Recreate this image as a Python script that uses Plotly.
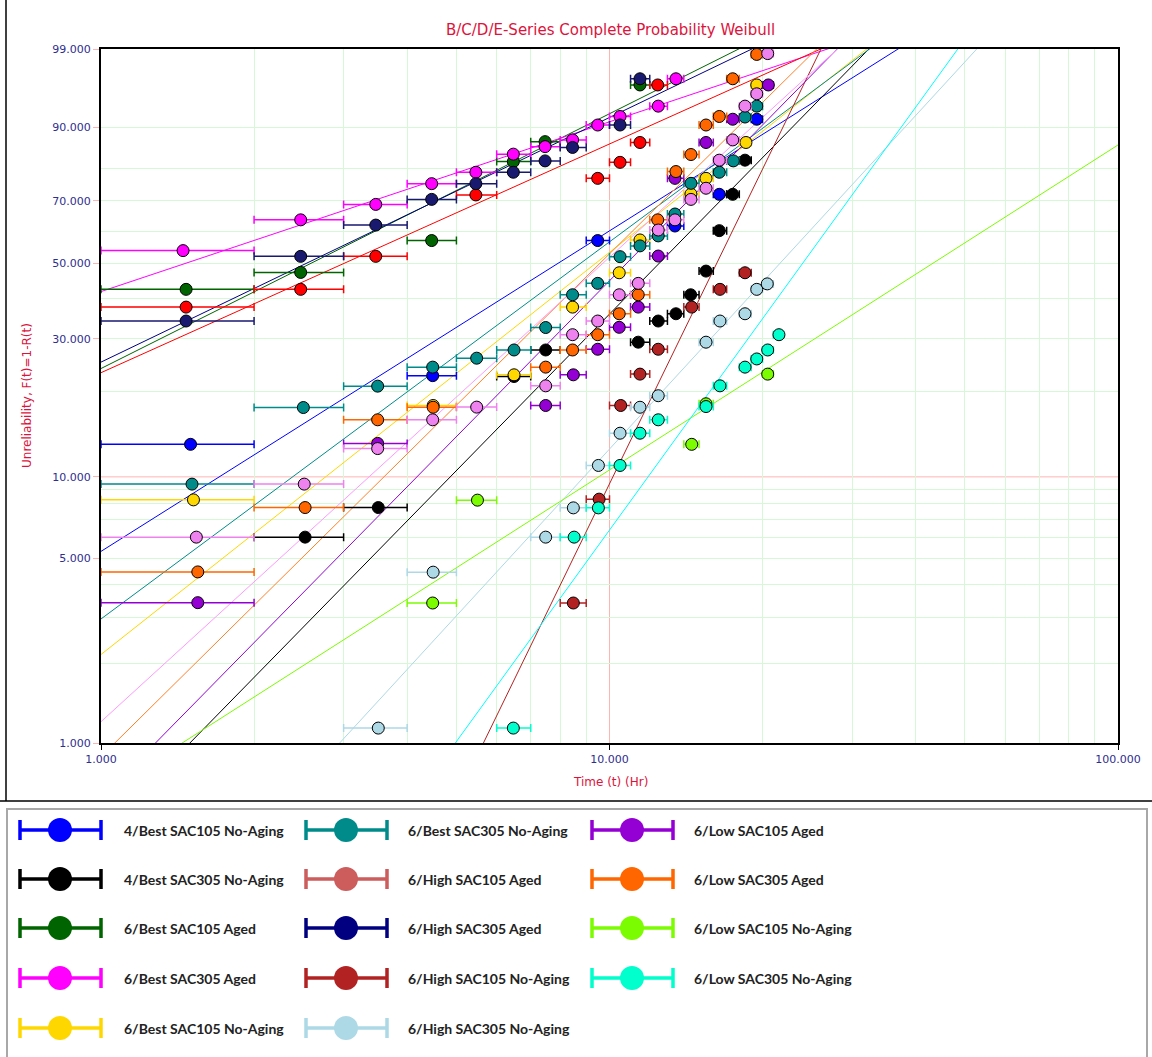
import numpy as np
import plotly.graph_objects as go

FIG_W, FIG_H = 1152, 1057

# ---------------- data: interval midpoints (hr), inspection intervals (hr), unreliability (%) ----------------
blue_t = [1.50, 4.49, 9.48, 13.45, 16.44, 19.48]
blue_iv = [(1, 2), (4, 5), (9, 10), (13, 14), (16, 17), (19, 20)]
blue_F = [13.1, 22.7, 57.2, 61.9, 72.1, 91.6]

black_t = [2.52, 3.51, 6.49, 7.49, 11.39, 12.47, 13.51, 14.44, 15.48, 16.44, 17.47, 18.47]
black_iv = [(2, 3), (3, 4), (6, 7), (7, 8), (11, 12), (12, 13), (13, 14), (14, 15), (15, 16), (16, 17), (17, 18), (18, 19)]
black_F = [6.0, 7.72, 22.55, 27.6, 29.25, 34.1, 35.9, 40.9, 47.7, 60.4, 72.1, 82.2]

dgreen_t = [1.47, 2.47, 4.47, 6.47, 7.47, 11.48]
dgreen_iv = [(1, 2), (2, 3), (4, 5), (6, 7), (7, 8), (11, 12)]
dgreen_F = [42.4, 47.3, 57.2, 81.8, 86.9, 96.5]

magenta_t = [1.45, 2.47, 3.47, 4.47, 5.46, 6.47, 7.47, 8.46, 9.48, 10.49, 12.47, 13.51]
magenta_iv = [(1, 2), (2, 3), (3, 4), (4, 5), (5, 6), (6, 7), (7, 8), (8, 9), (9, 10), (10, 11), (12, 13), (13, 14)]
magenta_F = [54.0, 63.9, 68.9, 75.4, 78.8, 83.8, 85.7, 87.3, 90.5, 92.1, 93.8, 97.1]

gold_t = [1.52, 4.50, 6.49, 8.46, 10.45, 11.48, 14.46, 15.48, 18.55, 19.48]
gold_iv = [(1, 2), (4, 5), (6, 7), (8, 9), (10, 11), (11, 12), (14, 15), (15, 16), (18, 19), (19, 20)]
gold_F = [8.24, 17.95, 22.85, 37.6, 47.2, 57.4, 72.2, 77.0, 86.7, 96.5]

teal_t = [1.51, 2.50, 3.50, 4.49, 5.48, 6.49, 7.49, 8.46, 9.48, 10.49, 11.48, 12.47, 13.45, 14.46,
          16.44, 17.52, 18.47, 19.48]
teal_iv = [(1, 2), (2, 3), (3, 4), (4, 5), (5, 6), (6, 7), (7, 8), (8, 9), (9, 10), (10, 11), (11, 12),
           (12, 13), (13, 14), (14, 15), (16, 17), (17, 18), (18, 19), (19, 20)]
teal_F = [9.41, 17.66, 20.92, 24.24, 25.95, 27.6, 32.55, 40.9, 44.1, 52.1, 55.5, 58.7, 65.8, 75.5,
          78.8, 82.0, 92.0, 93.8]

red_t = [1.47, 2.47, 3.47, 5.46, 9.48, 10.49, 11.48, 12.44]
red_iv = [(1, 2), (2, 3), (3, 4), (5, 6), (9, 10), (10, 11), (11, 12), (12, 13)]
red_F = [37.6, 42.4, 52.2, 71.9, 77.0, 81.6, 86.7, 96.5]

navy_t = [1.47, 2.47, 3.47, 4.47, 5.46, 6.47, 7.47, 8.46, 10.49, 11.48]
navy_iv = [(1, 2), (2, 3), (3, 4), (4, 5), (5, 6), (6, 7), (7, 8), (8, 9), (10, 11), (11, 12)]
navy_F = [34.1, 52.2, 62.2, 70.5, 75.4, 78.8, 82.0, 85.5, 90.5, 97.1]

brick_t = [8.49, 9.54, 10.52, 11.48, 12.47, 14.51, 16.49, 18.47]
brick_iv = [(8, 9), (9, 10), (10, 11), (11, 12), (12, 13), (14, 15), (16, 17), (18, 19)]
brick_F = [3.40, 8.29, 17.95, 22.97, 27.75, 37.6, 42.4, 47.2]

lblue_t = [3.51, 4.50, 7.49, 8.49, 9.51, 10.49, 11.48, 12.47, 15.48, 16.49, 18.47, 19.48, 20.43]
lblue_iv = [(3, 4), (4, 5), (7, 8), (8, 9), (9, 10), (10, 11), (11, 12), (12, 13), (15, 16), (16, 17),
            (18, 19), (19, 20), (20, 21)]
lblue_F = [1.14, 4.44, 6.0, 7.70, 11.0, 14.35, 17.7, 19.4, 29.25, 34.1, 35.9, 42.4, 43.95]

dviolet_t = [1.55, 3.50, 7.49, 8.49, 9.48, 10.45, 11.39, 12.47, 13.45, 15.48, 17.47, 20.53]
dviolet_iv = [(1, 2), (3, 4), (7, 8), (8, 9), (9, 10), (10, 11), (11, 12), (12, 13), (13, 14), (15, 16),
              (17, 18), (20, 21)]
dviolet_F = [3.41, 13.2, 17.95, 22.85, 27.75, 32.6, 37.6, 52.3, 77.0, 86.7, 91.6, 96.5]

orange_t = [1.55, 2.52, 3.50, 4.50, 7.49, 8.46, 9.48, 10.45, 11.39, 12.44, 13.51, 14.46, 15.48, 16.44,
            17.47, 19.48]
orange_iv = [(1, 2), (2, 3), (3, 4), (4, 5), (7, 8), (8, 9), (9, 10), (10, 11), (11, 12), (12, 13),
             (13, 14), (14, 15), (15, 16), (16, 17), (17, 18), (19, 20)]
orange_F = [4.45, 7.72, 16.0, 17.7, 24.24, 27.6, 30.9, 35.9, 40.9, 63.9, 79.0, 83.7, 90.5, 92.1,
            97.1, 98.76]

lgreen_t = [4.49, 5.50, 14.51, 15.48, 20.47]
lgreen_iv = [(4, 5), (5, 6), (14, 15), (15, 16), (20, 21)]
lgreen_F = [3.40, 8.22, 13.1, 18.2, 22.97]

turq_t = [6.47, 8.52, 9.51, 10.49, 11.48, 12.47, 15.48, 16.49, 18.47, 19.48, 20.47, 21.54]
turq_iv = [(6, 7), (8, 9), (9, 10), (10, 11), (11, 12), (12, 13), (15, 16), (16, 17), (18, 19),
           (19, 20), (20, 21), (21, 22)]
turq_F = [1.14, 6.0, 7.70, 11.0, 14.35, 16.0, 17.8, 20.97, 24.24, 25.8, 27.6, 30.9]

violet_t = [1.54, 2.51, 3.50, 4.49, 5.48, 7.49, 8.46, 9.48, 10.45, 11.39, 12.47, 13.45, 14.46, 15.48,
            16.44, 17.47, 18.47, 19.48, 20.47]
violet_iv = [(1, 2), (2, 3), (3, 4), (4, 5), (5, 6), (7, 8), (8, 9), (9, 10), (10, 11), (11, 12),
             (12, 13), (13, 14), (14, 15), (15, 16), (16, 17), (17, 18), (18, 19), (19, 20), (20, 21)]
violet_F = [6.0, 9.41, 12.65, 16.0, 17.72, 20.97, 30.9, 34.1, 40.9, 44.1, 60.6, 63.9, 70.5, 74.0,
            82.2, 87.3, 93.8, 95.5, 98.8]

# Weibull fit parameters (shape beta, scale eta in hr), same order as the series list below
fit_beta = [1.229, 1.993, 0.977, 0.651, 1.542, 1.446, 0.877, 0.938, 4.009, 2.124, 1.985, 1.928, 1.246, 2.693, 1.781]
fit_eta = [10.66, 15.04, 3.76, 2.57, 11.9, 11.29, 4.56, 3.74, 17.8, 25.7, 12.99, 11.57, 57.95, 27.46, 11.91]

# name, data, marker colour, fit-line colour, legend colour
series = [
    ("4/Best SAC105 No-Aging", blue_t, blue_iv, blue_F, "#0000FF", "#0000FF", "#0000FF"),
    ("4/Best SAC305 No-Aging", black_t, black_iv, black_F, "#000000", "#000000", "#000000"),
    ("6/Best SAC105 Aged", dgreen_t, dgreen_iv, dgreen_F, "#006400", "#006400", "#006400"),
    ("6/Best SAC305 Aged", magenta_t, magenta_iv, magenta_F, "#FF00FF", "#FF00FF", "#FF00FF"),
    ("6/Best SAC105 No-Aging", gold_t, gold_iv, gold_F, "#FFD700", "#FFD700", "#FFD700"),
    ("6/Best SAC305 No-Aging", teal_t, teal_iv, teal_F, "#008B8B", "#008B8B", "#008B8B"),
    ("6/High SAC105 Aged", red_t, red_iv, red_F, "#FF0000", "#FF0000", "#CD5C5C"),
    ("6/High SAC305 Aged", navy_t, navy_iv, navy_F, "#191970", "#000080", "#000080"),
    ("6/High SAC105 No-Aging", brick_t, brick_iv, brick_F, "#B22222", "#B22222", "#B22222"),
    ("6/High SAC305 No-Aging", lblue_t, lblue_iv, lblue_F, "#ADD8E6", "#ADD8E6", "#ADD8E6"),
    ("6/Low SAC105 Aged", dviolet_t, dviolet_iv, dviolet_F, "#9400D3", "#9400D3", "#9400D3"),
    ("6/Low SAC305 Aged", orange_t, orange_iv, orange_F, "#FF6600", "#FF7F27", "#FF6600"),
    ("6/Low SAC105 No-Aging", lgreen_t, lgreen_iv, lgreen_F, "#7CFC00", "#7CFC00", "#7CFC00"),
    ("6/Low SAC305 No-Aging", turq_t, turq_iv, turq_F, "#00FFCC", "#00FFFF", "#00FFCC"),
    ("Series 15", violet_t, violet_iv, violet_F, "#EE82EE", "#FF99FF", None),
]

y_major = [1, 5, 10, 30, 50, 70, 90, 99]
y_major_text = ["1.000", "5.000", "10.000", "30.000", "50.000", "70.000", "90.000", "99.000"]
y_grid = [2, 3, 4, 5, 6, 7, 8, 9, 20, 30, 40, 50, 60, 70, 80, 90]
x_major = [1, 10, 100]
x_major_text = ["1.000", "10.000", "100.000"]
x_grid = [2, 3, 4, 5, 6, 7, 8, 9, 20, 30, 40, 50, 60, 70, 80, 90]

GRID = "#D6F8D6"
PINK = "#FFB4B4"
CRIMSON = "#DC143C"
TICK_BLUE = "#2E2E8E"


def wb(p):
    """Unreliability in percent -> Weibull probability-paper coordinate ln(-ln(1-F))."""
    p = np.asarray(p, dtype=float) / 100.0
    return np.log(-np.log(1.0 - p))


def px(x):
    return x / FIG_W


def py(y):
    return 1.0 - y / FIG_H


fig = go.Figure()

# fitted Weibull lines: ln(-ln(1-F)) = beta * ln(t / eta)
t_line = np.array([1.0, 100.0])
for (name, t, iv, F, mc, lc, gc), b, e in zip(series, fit_beta, fit_eta):
    fig.add_trace(go.Scatter(
        x=t_line, y=b * np.log(t_line / e), mode="lines",
        line=dict(color=lc, width=1), hoverinfo="skip", showlegend=False,
        xaxis="x", yaxis="y"))

# interval data points with horizontal interval bars
for name, t, iv, F, mc, lc, gc in series:
    t = np.asarray(t, dtype=float)
    lo = np.array([a for a, b in iv], dtype=float)
    hi = np.array([b for a, b in iv], dtype=float)
    fig.add_trace(go.Scatter(
        x=t, y=wb(F), mode="markers", name=name, showlegend=False,
        marker=dict(size=12, color=mc, line=dict(color="#000000", width=1)),
        error_x=dict(type="data", symmetric=False, array=hi - t, arrayminus=t - lo,
                     color=mc, thickness=1.5, width=4),
        cliponaxis=False, xaxis="x", yaxis="y"))

# legend panel drawn in its own pixel-space axes
leg_cols = [(20, 101, 60, 122), (306, 387, 346, 406), (592, 673, 632, 692)]
leg_rows = [830, 879, 928, 978, 1028]
legend_items = [s for s in series if s[6] is not None]
annotations = []
for k, (name, t, iv, F, mc, lc, gc) in enumerate(legend_items):
    c, r = divmod(k, 5)
    x0, x1, cx, tx = leg_cols[c]
    cy = leg_rows[r]
    fig.add_trace(go.Scatter(
        x=[cx], y=[cy], mode="markers", showlegend=False, hoverinfo="skip",
        marker=dict(size=24, color=gc),
        error_x=dict(type="data", symmetric=False, array=[x1 - cx], arrayminus=[cx - x0],
                     color=gc, thickness=3.5, width=10),
        xaxis="x2", yaxis="y2"))
    annotations.append(dict(x=px(tx), y=py(cy), xref="paper", yref="paper", text="<b>%s</b>" % name,
                            showarrow=False, xanchor="left", yanchor="middle",
                            font=dict(family="Lato", size=14, color="#222222")))

shapes = [
    # pink reference lines at 10 hr and 10 %
    dict(type="line", xref="x domain", yref="y domain", x0=0.5, x1=0.5, y0=0, y1=1,
         line=dict(color=PINK, width=1), layer="below"),
    dict(type="line", xref="x domain", yref="y", x0=0, x1=1, y0=float(wb(10)), y1=float(wb(10)),
         line=dict(color=PINK, width=1), layer="below"),
    # chart panel frame
    dict(type="line", xref="paper", yref="paper", x0=px(6), x1=px(6), y0=py(0), y1=py(801),
         line=dict(color="#000000", width=1.5)),
    dict(type="line", xref="paper", yref="paper", x0=px(0), x1=px(FIG_W), y0=py(801), y1=py(801),
         line=dict(color="#000000", width=1.5)),
    # legend box
    dict(type="rect", xref="paper", yref="paper", x0=px(7), x1=px(1147), y0=py(1070), y1=py(809),
         line=dict(color="#A8A8A8", width=2), fillcolor="rgba(0,0,0,0)"),
]

annotations += [
    dict(text="B/C/D/E-Series Complete Probability Weibull", x=px(610), y=py(30), xref="paper",
         yref="paper", showarrow=False, xanchor="center", yanchor="middle",
         font=dict(family="DejaVu Sans", size=15, color=CRIMSON)),
    dict(text="Time (t) (Hr)", x=px(610), y=py(782), xref="paper", yref="paper", showarrow=False,
         xanchor="center", yanchor="middle", font=dict(family="DejaVu Sans", size=12, color=CRIMSON)),
    dict(text="Unreliability, F(t)=1-R(t)", x=px(27), y=py(396), xref="paper", yref="paper",
         showarrow=False, textangle=-90, xanchor="center", yanchor="middle",
         font=dict(family="DejaVu Sans", size=12, color=CRIMSON)),
]

fig.update_layout(
    width=FIG_W, height=FIG_H, margin=dict(l=0, r=0, t=0, b=0, autoexpand=False),
    paper_bgcolor="white", plot_bgcolor="white", showlegend=False,
    xaxis=dict(
        type="log", range=[0, 2], domain=[px(101), px(1118)], anchor="y", automargin=False,
        tickmode="array", tickvals=x_major, ticktext=x_major_text,
        ticks="outside", ticklen=5, tickcolor="#000000", tickwidth=1,
        showgrid=False, zeroline=False,
        showline=True, linecolor="#000000", linewidth=2, mirror=True,
        minor=dict(tickmode="array", tickvals=x_grid, showgrid=True, gridcolor=GRID, gridwidth=1, ticks=""),
        tickfont=dict(family="DejaVu Sans", size=11, color=TICK_BLUE),
    ),
    yaxis=dict(
        range=[float(wb(1)), float(wb(99))], domain=[py(743), py(49)], anchor="x", automargin=False,
        tickmode="array", tickvals=[float(v) for v in wb(y_major)], ticktext=y_major_text,
        ticks="outside", ticklen=6, tickcolor=PINK, tickwidth=1,
        showgrid=False, zeroline=False,
        showline=True, linecolor="#000000", linewidth=2, mirror=True,
        minor=dict(tickmode="array", tickvals=[float(v) for v in wb(y_grid)], showgrid=True,
                   gridcolor=GRID, gridwidth=1, ticks=""),
        tickfont=dict(family="DejaVu Sans", size=11, color=TICK_BLUE),
    ),
    xaxis2=dict(domain=[0, 1], range=[0, FIG_W], anchor="y2", visible=False, fixedrange=True,
                automargin=False),
    yaxis2=dict(domain=[0, py(805)], range=[FIG_H, 805], anchor="x2", visible=False, fixedrange=True,
                automargin=False),
    shapes=shapes,
    annotations=annotations,
)

fig.write_html("out.html")
